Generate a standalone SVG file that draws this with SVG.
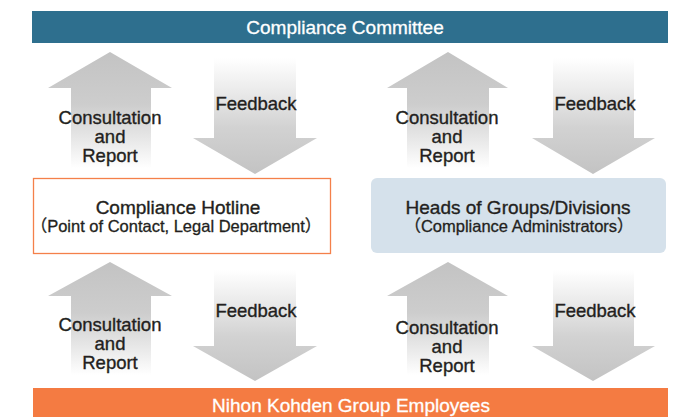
<svg xmlns="http://www.w3.org/2000/svg" width="684" height="417" viewBox="0 0 684 417">
<defs>
<linearGradient id="gUp" x1="0" y1="0" x2="0" y2="1">
<stop offset="0" stop-color="#c3c3c3"/>
<stop offset="0.45" stop-color="#cdcdcd"/>
<stop offset="0.8" stop-color="#ececec"/>
<stop offset="1" stop-color="#ffffff"/>
</linearGradient>
<linearGradient id="gDown" x1="0" y1="0" x2="0" y2="1">
<stop offset="0" stop-color="#ffffff"/>
<stop offset="0.25" stop-color="#ededed"/>
<stop offset="0.6" stop-color="#d2d2d2"/>
<stop offset="1" stop-color="#c3c3c3"/>
</linearGradient>
<style>
text{font-family:"Liberation Sans",Arial,"Noto Sans CJK JP",sans-serif;fill:#231f20;text-anchor:middle;stroke:#231f20;stroke-width:0.35}
.lbl{font-size:18.5px}
.bar{font-size:19px;fill:#ffffff;stroke:#ffffff;stroke-width:0.3}
.title{font-size:19px}
.sub{font-size:16.5px;stroke-width:0.3}
.up{fill:url(#gUp)}
.down{fill:url(#gDown)}
</style>
</defs>
<g id="committee">
<rect x="32" y="11" width="636" height="32" fill="#2e6f8e"/>
<text class="bar" x="345" y="34">Compliance Committee</text>
</g>
<g id="hotline">
<rect x="33.5" y="178.5" width="297" height="75" fill="#ffffff" stroke="#f4804a" stroke-width="1.3"/>
<text class="title" x="178" y="214">Compliance Hotline</text>
<text class="sub" x="176" y="232">（Point of Contact, Legal Department）</text>
</g>
<g id="heads">
<rect x="371" y="178" width="295" height="75" rx="6" fill="#d5e1eb"/>
<text class="title" x="518" y="214">Heads of Groups/Divisions</text>
<text class="sub" x="519" y="232">（Compliance Administrators）</text>
</g>
<g id="employees">
<rect x="33" y="388" width="635" height="29" fill="#f47b42"/>
<text class="bar" x="351" y="412">Nihon Kohden Group Employees</text>
</g>
<g id="connectors">
<path class="up" d="M110,52 L172,88 L151,88 L151,168 L71,168 L71,88 L48,88 Z"/>
<path class="down" d="M214,58 L296,58 L296,138 L317,138 L255,174 L193,138 L214,138 Z"/>
<path class="up" d="M448,52 L508,88 L489,88 L489,168 L407,168 L407,88 L387,88 Z"/>
<path class="down" d="M553,58 L634,58 L634,138 L655,138 L593,174 L532,138 L553,138 Z"/>
<path class="up" d="M110,262 L172,296 L151,296 L151,375 L71,375 L71,296 L48,296 Z"/>
<path class="down" d="M214,270 L296,270 L296,346 L317,346 L255,381 L193,346 L214,346 Z"/>
<path class="up" d="M448,262 L508,296 L489,296 L489,375 L407,375 L407,296 L387,296 Z"/>
<path class="down" d="M553,270 L634,270 L634,346 L655,346 L593,381 L532,346 L553,346 Z"/>
<text class="lbl" x="110" y="124">Consultation</text>
<text class="lbl" x="110" y="143">and</text>
<text class="lbl" x="110" y="162">Report</text>
<text class="lbl" x="256" y="110">Feedback</text>
<text class="lbl" x="447" y="124">Consultation</text>
<text class="lbl" x="447" y="143">and</text>
<text class="lbl" x="447" y="162">Report</text>
<text class="lbl" x="595" y="110">Feedback</text>
<text class="lbl" x="110" y="331">Consultation</text>
<text class="lbl" x="110" y="350">and</text>
<text class="lbl" x="110" y="369">Report</text>
<text class="lbl" x="256" y="317">Feedback</text>
<text class="lbl" x="447" y="334">Consultation</text>
<text class="lbl" x="447" y="353">and</text>
<text class="lbl" x="447" y="372">Report</text>
<text class="lbl" x="595" y="317">Feedback</text>
</g>
</svg>
